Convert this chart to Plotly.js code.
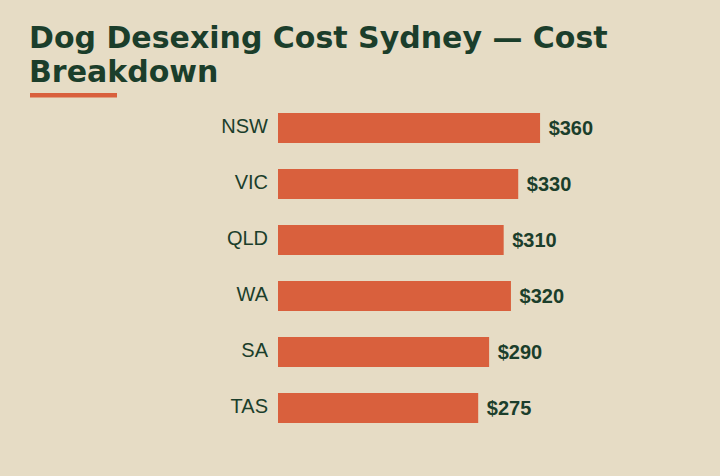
<!DOCTYPE html>
<html>
<head>
<meta charset="utf-8">
<script src="https://cdn.plot.ly/plotly-3.0.1.min.js"></script>
<style>
html,body{margin:0;padding:0;background:#e6dcc5;}
#chart{width:720px;height:476px;}
</style>
</head>
<body>
<div id="chart"></div>
<script>
const regions = ["NSW", "VIC", "QLD", "WA", "SA", "TAS"];
const costs = [360, 330, 310, 320, 290, 275];
const valueLabels = costs.map(v => "\u00a0$" + v);
const titleLine1 = "Dog Desexing Cost Sydney — Cost";
const titleLine2 = "Breakdown";

const GREEN = "#1b3e2b";
const ORANGE = "#d9603d";
const BG = "#e6dcc5";

const trace = {
  type: "bar",
  orientation: "h",
  y: regions,
  x: costs,
  text: valueLabels,
  textposition: "outside",
  textfont: {family: "Liberation Sans", size: 20, color: GREEN, weight: "bold"},
  marker: {color: ORANGE},
  cliponaxis: false,
  constraintext: "none",
  hoverinfo: "skip"
};

const layout = {
  width: 720,
  height: 476,
  paper_bgcolor: BG,
  plot_bgcolor: BG,
  margin: {l: 278, r: 70, t: 100, b: 40},
  bargap: 0.464,
  showlegend: false,
  title: {
    text: titleLine1,
    font: {family: "DejaVu Sans", size: 30, color: GREEN, weight: "bold"},
    xref: "container", yref: "container",
    x: 29/720, xanchor: "left",
    y: 1 - 48/476, yanchor: "bottom",
    pad: {t: 0, b: 0, l: 0, r: 0}
  },
  annotations: [{
    text: titleLine2,
    font: {family: "DejaVu Sans", size: 30, color: GREEN, weight: "bold"},
    xref: "paper", yref: "paper",
    x: 0, xshift: -251, xanchor: "left",
    y: 1, yshift: 29, yanchor: "middle",
    showarrow: false
  }],
  shapes: [{
    type: "rect",
    xref: "paper", yref: "paper",
    xsizemode: "pixel", ysizemode: "pixel",
    xanchor: 0, yanchor: 1,
    x0: -248, x1: -161, y0: 2.5, y1: 7,
    fillcolor: ORANGE, line: {width: 0}
  }],
  xaxis: {
    range: [0, 511],
    visible: false,
    showgrid: false, zeroline: false, fixedrange: true
  },
  yaxis: {
    type: "category",
    autorange: "reversed",
    showgrid: false, zeroline: false, showline: false,
    ticks: "",
    ticklabelstandoff: 9,
    ticklabelshift: 2,
    tickfont: {family: "Liberation Sans", size: 20, color: GREEN},
    fixedrange: true
  }
};

Plotly.newPlot("chart", [trace], layout, {displayModeBar: false, staticPlot: true});
</script>
</body>
</html>
